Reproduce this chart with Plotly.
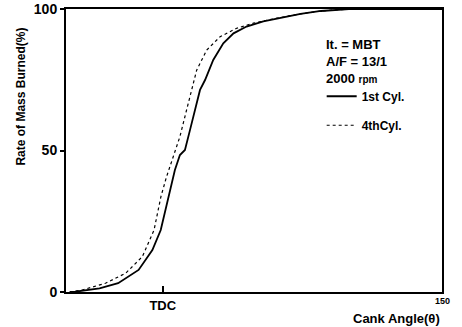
import plotly.graph_objects as go

# Crank angle (deg, TDC = 0) and cumulative mass burned (%)
cyl1_angle = [-50, -47, -34, -24, -13, -5.6, -1.1, 1.0, 3.0, 4.7, 6.5, 9.2, 11.9, 14.6,
              17.3, 20.0, 22.7, 27.1, 32.5, 38.0, 45.0, 54.0, 62.0, 74.0, 85.0, 92.0, 100.0, 150.0]
cyl1_burned = [0, 0.1, 1.3, 3.1, 7.8, 14.8, 21.9, 28.0, 33.0, 38.4, 43.1, 48.4, 50.2, 57.2,
               64.3, 71.4, 74.9, 82.0, 87.9, 91.4, 93.8, 95.6, 96.7, 98.3, 99.3, 99.7, 100, 100]

cyl4_angle = [-50, -43.3, -30.8, -20.0, -11.0, -4.7, -1.0, 2.0, 5.6, 9.2, 11.9, 15.5, 18.2,
              23.6, 30.8, 39.7, 48.7, 60.0, 74.0, 85.0, 92.0, 100.0, 150.0]
cyl4_burned = [0, 0.7, 3.1, 6.6, 12.5, 21.9, 33.7, 40.7, 47.8, 54.9, 62.0, 71.4, 78.4,
               85.5, 90.2, 93.2, 95.0, 96.6, 98.3, 99.3, 99.7, 100, 100]

x_tick_vals = [0, 150]
x_tick_text = ["TDC", "150"]
y_tick_vals = [0, 50, 100]

FONT = "Liberation Sans"

fig = go.Figure()
fig.add_trace(go.Scatter(x=cyl1_angle, y=cyl1_burned, mode="lines", name="1st Cyl.",
                         legendgroup="a", line=dict(color="black", width=1.8)))
fig.add_trace(go.Scatter(x=cyl4_angle, y=cyl4_burned, mode="lines", name="4thCyl.",
                         legendgroup="b", line=dict(color="black", width=1.2, dash="dot")))

fig.update_layout(
    width=462, height=327,
    margin=dict(l=66, r=20, t=9, b=35, autoexpand=False),
    paper_bgcolor="white", plot_bgcolor="white",
    font=dict(family=FONT, color="black", size=12, weight="bold"),
    showlegend=True,
    legend=dict(x=0.68, y=0.743, xanchor="left", yanchor="top",
                bgcolor="rgba(0,0,0,0)", itemwidth=30, tracegroupgap=10,
                font=dict(size=12, weight="bold")),
    xaxis=dict(range=[-52, 150], tickvals=[0], ticktext=["TDC"],
               ticks="inside", ticklen=6, tickcolor="black", tickwidth=1.5,
               showline=True, linecolor="black", linewidth=2, mirror=True,
               showgrid=False, zeroline=False,
               tickfont=dict(size=13, weight="bold")),
    yaxis=dict(range=[0, 100], tickvals=y_tick_vals,
               ticks="outside", ticklen=4, tickcolor="black", tickwidth=1.5,
               showline=True, linecolor="black", linewidth=2, mirror=True,
               showgrid=False, zeroline=False,
               tickfont=dict(size=14, weight="bold")),
)

# Right-end angle label and axis titles
fig.add_annotation(x=x_tick_vals[1], y=0, xref="x", yref="y", text=x_tick_text[1],
                   showarrow=False, yanchor="top", yshift=-2, font=dict(size=9, weight="bold"))
fig.add_annotation(x=1.0, y=-0.092, xref="paper", yref="paper", text="Cank Angle(θ)",
                   showarrow=False, xanchor="right", yanchor="middle",
                   font=dict(size=13, weight="bold"))
fig.add_annotation(x=-0.12, y=0.69, xref="paper", yref="paper",
                   text="Rate of Mass Burned(%)", textangle=-90, showarrow=False,
                   xanchor="center", yanchor="middle", font=dict(size=12, weight="bold"))

# Operating conditions
conditions = ["It. = MBT", "A/F = 13/1", "2000 <span style='font-size:10px'>rpm</span>"]
for i, txt in enumerate(conditions):
    fig.add_annotation(x=0.685, y=0.873 - i * 0.06, xref="paper", yref="paper", text=txt,
                       showarrow=False, xanchor="left", yanchor="middle",
                       font=dict(size=13, weight="bold"))

fig.write_html("out.html")
